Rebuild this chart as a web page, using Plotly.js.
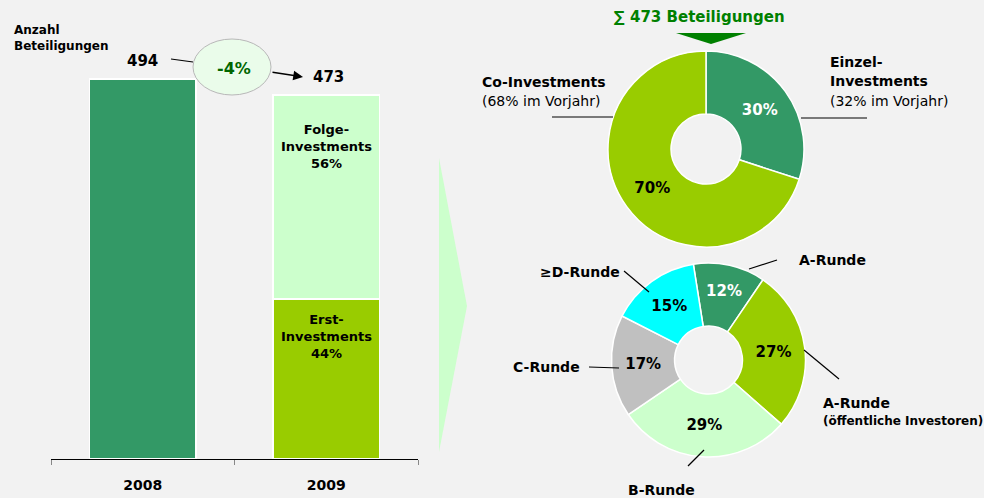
<!DOCTYPE html>
<html>
<head>
<meta charset="utf-8">
<script src="https://cdn.plot.ly/plotly-3.0.1.min.js"></script>
<style>html,body{margin:0;padding:0;background:#f2f2f2;}#chart{width:984px;height:498px;}</style>
</head>
<body>
<div id="chart"></div>
<script>
// ---- data ----
var years = ['2008', '2009'];
var totals = [494, 473];
var shareErst2009 = 44;   // %
var shareFolge2009 = 56;  // %
var changeLabel = '-4%';

var investLabels = ['Einzel-Investments', 'Co-Investments'];
var investShares = [30, 70];
var investPrevYear = [32, 68];

var roundLabels = ['A-Runde', 'A-Runde (öffentliche Investoren)', 'B-Runde', 'C-Runde', '≥D-Runde'];
var roundShares = [12, 27, 29, 17, 15];

// ---- helpers (pixel -> paper) ----
var W = 984, H = 498;
function px(x) { return x / W; }
function py(y) { return 1 - y / H; }
var FONT = 'DejaVu Sans, Verdana, sans-serif';

var erstVal = totals[1] * shareErst2009 / 100;
var folgeVal = totals[1] * shareFolge2009 / 100;
var i08 = 0, i09 = 1; // category indices of years

var barLine = {color: '#ffffff', width: 1.5};
var traces = [
  {type: 'bar', x: [years[0]], y: [totals[0]], marker: {color: '#339966', line: barLine}, hoverinfo: 'none'},
  {type: 'bar', x: [years[1]], y: [erstVal], marker: {color: '#99cc00', line: barLine}, hoverinfo: 'none'},
  {type: 'bar', x: [years[1]], y: [folgeVal], marker: {color: '#ccffcc', line: barLine}, hoverinfo: 'none'},
  {
    type: 'pie', labels: investLabels, values: investShares, sort: false, direction: 'clockwise', rotation: 0,
    hole: 0.357, domain: {x: [px(608), px(804)], y: [py(247), py(51)]},
    marker: {colors: ['#339966', '#99cc00'], line: {color: '#ffffff', width: 1.5}},
    texttemplate: '%{value}%', textposition: 'inside', insidetextorientation: 'horizontal',
    textfont: {family: FONT, size: 15, color: ['#ffffff', '#000000'], weight: 'bold'},
    hoverinfo: 'none', showlegend: false
  },
  {
    type: 'pie', labels: roundLabels, values: roundShares, sort: false, direction: 'clockwise', rotation: -9,
    hole: 0.35, domain: {x: [px(611.5), px(805.5)], y: [py(457), py(263)]},
    marker: {colors: ['#339966', '#99cc00', '#ccffcc', '#c0c0c0', '#00ffff'], line: {color: '#ffffff', width: 1.5}},
    texttemplate: '%{value}%', textposition: 'inside', insidetextorientation: 'horizontal',
    textfont: {family: FONT, size: 15, color: ['#ffffff', '#000000', '#000000', '#000000', '#000000'], weight: 'bold'},
    hoverinfo: 'none', showlegend: false
  }
];

function txt(x, y, text, opts) {
  var o = {xref: 'paper', yref: 'paper', x: px(x), y: py(y), text: text, showarrow: false,
    xanchor: 'center', yanchor: 'middle', font: {family: FONT, size: 14, color: '#000000', weight: 'bold'}};
  for (var k in opts) { if (k === 'font') { for (var f in opts.font) o.font[f] = opts.font[f]; } else o[k] = opts[k]; }
  return o;
}
function line(x0, y0, x1, y1, color, width) {
  return {type: 'line', xref: 'paper', yref: 'paper', x0: px(x0), y0: py(y0), x1: px(x1), y1: py(y1),
    line: {color: color || '#000000', width: width || 1.2}};
}

var annotations = [
  txt(12, 38, 'Anzahl<br>Beteiligungen', {xanchor: 'left', align: 'left', font: {size: 12}}),
  // value labels on bars
  {xref: 'x', yref: 'y', x: i08, y: totals[0], yanchor: 'bottom', yshift: 7, showarrow: false,
    text: String(totals[0]), font: {family: FONT, size: 15, color: '#000', weight: 'bold'}},
  {xref: 'x', yref: 'y', x: i09, y: totals[1], yanchor: 'bottom', yshift: 7, xshift: 2, showarrow: false,
    text: String(totals[1]), font: {family: FONT, size: 15, color: '#000', weight: 'bold'}},
  {xref: 'x', yref: 'y', x: i09, y: totals[1], yanchor: 'top', yshift: -25, showarrow: false,
    text: 'Folge-<br>Investments<br>' + shareFolge2009 + '%', font: {family: FONT, size: 13, color: '#000', weight: 'bold'}},
  {xref: 'x', yref: 'y', x: i09, y: erstVal, yanchor: 'top', yshift: -11, showarrow: false,
    text: 'Erst-<br>Investments<br>' + shareErst2009 + '%', font: {family: FONT, size: 13, color: '#000', weight: 'bold'}},
  // change bubble
  txt(234, 68, changeLabel, {font: {size: 16, color: '#006600'}}),
  // arrow out of bubble
  {xref: 'paper', yref: 'paper', x: px(303), y: py(77), ax: -32, ay: -5, text: '', showarrow: true,
    arrowhead: 2, arrowsize: 1.3, arrowwidth: 1.5, arrowcolor: '#000000'},
  // sum header
  txt(699, 17, '∑ ' + totals[1] + ' Beteiligungen', {font: {size: 15, color: '#008000'}}),
  // donut 1 labels
  txt(480, 82, 'Co-Investments', {xanchor: 'left'}),
  txt(480, 101, '(' + investPrevYear[1] + '% im Vorjahr)', {xanchor: 'left', font: {weight: 'normal', size: 14}}),
  txt(828, 62, 'Einzel-', {xanchor: 'left'}),
  txt(828, 81, 'Investments', {xanchor: 'left'}),
  txt(828, 101, '(' + investPrevYear[0] + '% im Vorjahr)', {xanchor: 'left', font: {weight: 'normal', size: 14}}),
  // donut 2 labels
  txt(797, 260, 'A-Runde', {xanchor: 'left'}),
  txt(622, 272, '≥D-Runde', {xanchor: 'right'}),
  txt(582, 367, 'C-Runde', {xanchor: 'right'}),
  txt(661, 490, 'B-Runde', {}),
  txt(821, 403, 'A-Runde', {xanchor: 'left'}),
  txt(821, 421, '(öffentliche Investoren)', {xanchor: 'left', font: {size: 12}})
];

var shapes = [
  // chevron
  {type: 'path', xref: 'paper', yref: 'paper',
    path: 'M' + px(439) + ',' + py(158) + ' L' + px(467) + ',' + py(306) + ' L' + px(439) + ',' + py(452) + ' Z',
    fillcolor: '#ccffcc', line: {width: 0}},
  // bubble
  {type: 'circle', xref: 'paper', yref: 'paper', x0: px(193), y0: py(95), x1: px(271), y1: py(39),
    fillcolor: '#eafcea', line: {color: '#b8b8b8', width: 1}},
  line(171, 59, 193, 62),
  // header triangle
  {type: 'path', xref: 'paper', yref: 'paper',
    path: 'M' + px(676) + ',' + py(33) + ' L' + px(746) + ',' + py(33) + ' L' + px(711) + ',' + py(44) + ' Z',
    fillcolor: '#008000', line: {width: 0}},
  // donut 1 leader lines
  line(552, 117, 613, 117),
  line(801, 118, 867, 118),
  // donut 2 leader lines
  line(749, 269, 777, 260),
  line(624, 271, 649, 292),
  line(589, 367, 619, 368),
  line(688, 466, 704, 450),
  line(804, 350, 839, 379)
];

var layout = {
  width: W, height: H,
  margin: {l: 0, r: 0, t: 0, b: 0},
  paper_bgcolor: '#f2f2f2', plot_bgcolor: 'rgba(0,0,0,0)',
  showlegend: false, barmode: 'stack', bargap: 0.417,
  xaxis: {domain: [px(51), px(418)], type: 'category', range: [-0.5, 1.5], tickson: 'boundaries',
    ticks: 'outside', ticklen: 5, tickcolor: '#888888', showline: true, linecolor: '#000000', linewidth: 1.2,
    showgrid: false, zeroline: false, fixedrange: true,
    tickfont: {family: FONT, size: 14, color: '#000', weight: 'bold'}, ticklabelstandoff: 13},
  yaxis: {domain: [py(459), 1], range: [0, 459 * totals[0] / 380], visible: false, showgrid: false,
    zeroline: false, fixedrange: true},
  annotations: annotations,
  shapes: shapes
};

Plotly.newPlot('chart', traces, layout, {staticPlot: true, displayModeBar: false});
</script>
</body>
</html>
